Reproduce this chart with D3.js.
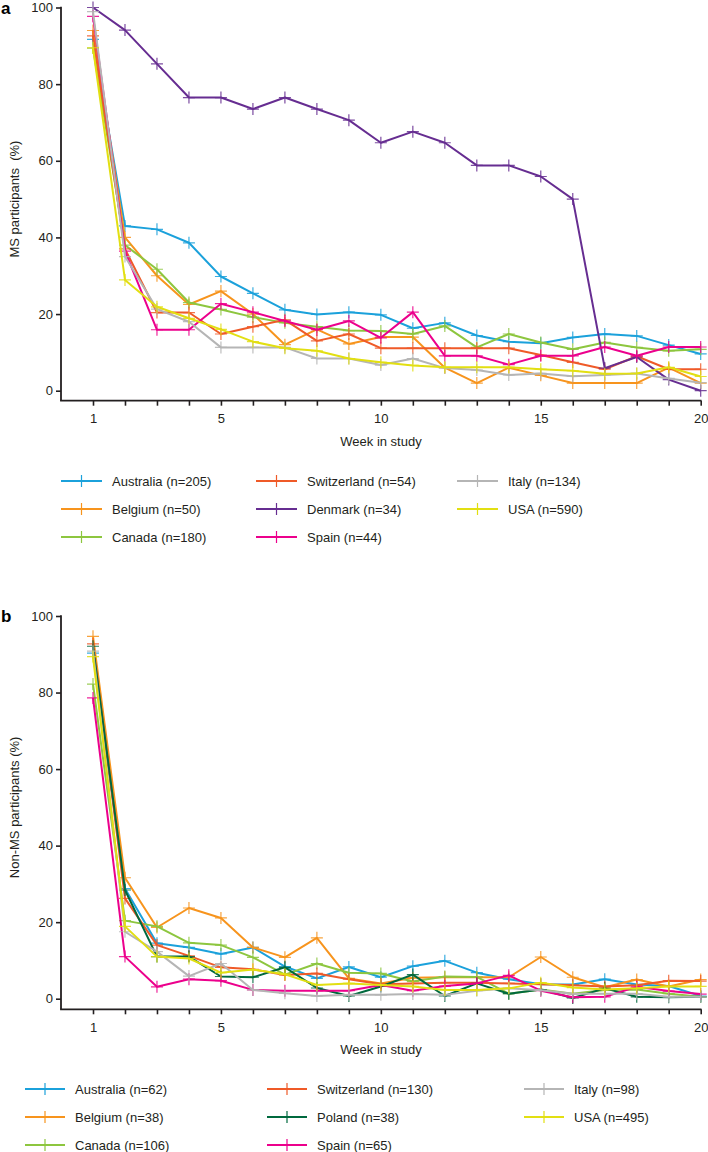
<!DOCTYPE html>
<html><head><meta charset="utf-8">
<script src="https://cdn.jsdelivr.net/npm/d3@7"></script>
<style>
body{margin:0;background:#fff;}
svg{display:block;font-family:"Liberation Sans",Arial,Helvetica,sans-serif;}
</style></head><body>
<svg id="chart" width="708" height="1152"></svg>
<script>
const weeks = d3.range(1, 21);
const xTickLabels = [1, 5, 10, 15, 20];
const yTicks = [0, 20, 40, 60, 80, 100];

const colors = {
  Australia: "#1ba1db", Belgium: "#f7941d", Canada: "#8dc63f", Switzerland: "#ef5a28",
  Denmark: "#662d91", Spain: "#ec008c", Italy: "#b5b5b5", USA: "#e2df12", Poland: "#00693e"
};

// Panel a: MS participants
const msCountries = ["Australia", "Belgium", "Canada", "Switzerland", "Denmark", "Spain", "Italy", "USA"];
const msN = [205, 50, 180, 54, 34, 44, 134, 590];
const msAustralia = [91.7, 43.0, 42.1, 38.6, 29.8, 25.4, 21.1, 19.9, 20.5, 19.8, 16.3, 17.7, 14.4, 12.8, 12.4, 13.9, 14.8, 14.3, 11.9, 9.6];
const msBelgium = [94, 40, 30, 22.5, 26, 20, 12, 16, 12.2, 14, 14, 6, 2, 6, 4, 2, 2, 2, 6, 2];
const msCanada = [89.4, 38.0, 31.7, 23.0, 21.2, 19.2, 17.7, 16.7, 15.7, 15.6, 14.8, 16.9, 11.3, 14.8, 12.6, 10.8, 12.6, 11.3, 10.4, 10.8];
const msSwitzerland = [92.6, 37.0, 20.4, 20.4, 14.8, 16.7, 18.5, 13.0, 14.8, 11.1, 11.1, 11.1, 11.1, 11.1, 9.3, 7.4, 5.6, 9.0, 5.6, 5.6];
const msDenmark = [100, 94.1, 85.3, 76.5, 76.5, 73.5, 76.5, 73.5, 70.6, 64.7, 67.6, 64.7, 58.8, 58.8, 55.9, 50.0, 5.9, 8.8, 2.9, 0];
const msSpain = [97.7, 36.4, 15.9, 15.9, 22.7, 20.5, 18.2, 15.9, 18.2, 13.8, 20.5, 9.1, 9.1, 6.8, 9.1, 9.1, 11.4, 9.1, 11.4, 11.4];
const msItaly = [98.9, 35.0, 21.3, 18.0, 11.3, 11.3, 11.3, 8.4, 8.4, 6.7, 8.4, 5.9, 5.4, 4.1, 4.5, 3.8, 4.1, 4.5, 3.2, 2.1];
const msUSA = [89.5, 28.9, 21.9, 18.9, 16.0, 12.8, 11.1, 10.4, 8.4, 7.4, 6.6, 6.1, 6.1, 6.1, 5.6, 5.2, 4.4, 4.5, 6.1, 3.7];
const msValues = [msAustralia, msBelgium, msCanada, msSwitzerland, msDenmark, msSpain, msItaly, msUSA];

// Panel b: Non-MS participants
const nonCountries = ["Australia", "Belgium", "Canada", "Switzerland", "Poland", "Spain", "Italy", "USA"];
const nonN = [62, 38, 106, 130, 38, 65, 98, 495];
const nonAustralia = [90.3, 28.8, 14.5, 13.4, 11.7, 13.4, 8.4, 5.3, 8.3, 5.6, 8.5, 9.9, 6.8, 5.1, 3.8, 3.7, 5.1, 3.7, 3.3, 0.7];
const nonBelgium = [94.7, 31.6, 18.6, 23.7, 21.1, 13.4, 10.8, 15.9, 5.3, 4.0, 5.5, 5.6, 5.6, 5.6, 10.9, 5.6, 3.0, 5.0, 3.2, 5.0];
const nonCanada = [82.2, 20.4, 18.9, 14.6, 14.0, 10.8, 6.3, 9.2, 6.8, 6.6, 4.5, 5.8, 5.7, 1.3, 2.4, 1.3, 2.3, 2.4, 1.3, 0.5];
const nonSwitzerland = [92.7, 26.2, 14.0, 11.2, 8.2, 7.7, 6.2, 6.6, 5.1, 3.8, 4.0, 4.2, 4.2, 4.0, 3.8, 3.5, 3.2, 3.5, 4.7, 4.6];
const nonPoland = [92.1, 28.4, 11.0, 11.0, 5.8, 5.6, 8.2, 2.8, 0.7, 3.2, 6.3, 0.7, 4.0, 1.3, 2.4, 0.2, 2.7, 0.5, 0.4, 0.5];
const nonSpain = [78.6, 11.0, 3.1, 5.1, 4.7, 2.3, 2.1, 2.1, 2.1, 3.6, 2.1, 3.3, 4.0, 6.1, 2.1, 0.4, 0.5, 3.1, 2.0, 1.2];
const nonItaly = [90.8, 17.5, 12.3, 5.9, 9.2, 2.3, 1.4, 0.7, 1.0, 1.0, 1.2, 1.0, 2.1, 2.7, 2.2, 1.3, 1.3, 1.3, 0.5, 0.5];
const nonUSA = [89.4, 18.9, 11.0, 10.5, 6.8, 7.6, 6.4, 3.6, 4.0, 3.6, 3.2, 2.3, 2.3, 2.7, 4.2, 2.9, 2.4, 2.7, 3.2, 3.2];
const nonValues = [nonAustralia, nonBelgium, nonCanada, nonSwitzerland, nonPoland, nonSpain, nonItaly, nonUSA];

const svg = d3.select("#chart");
const axisColor = "#231f20";
const textColor = "#231f20";
const fontSize = 13;

function drawPanel(opt) {
  const x = d3.scaleLinear().domain([1, 20]).range([93, 700.7]);
  const y = d3.scaleLinear().domain([0, 100]).range([opt.y0, opt.y100]);
  const g = svg.append("g");
  const axisX0 = 61, axisY = opt.axisY;

  // panel label
  g.append("text").attr("x", 1).attr("y", opt.y100 + 6).attr("font-size", 17).attr("font-weight", "bold")
    .attr("fill", "#000").text(opt.label);

  // y axis
  const ya = g.append("g").attr("transform", `translate(${axisX0},0)`)
    .call(d3.axisLeft(y).tickValues(yTicks).tickSize(5).tickPadding(3));
  ya.select(".domain").remove();
  ya.selectAll(".tick line").attr("stroke", axisColor).attr("stroke-width", 1.6);
  ya.selectAll(".tick text").attr("font-size", fontSize).attr("fill", textColor).attr("font-family", "Liberation Sans, Arial, sans-serif");
  g.append("line").attr("x1", axisX0).attr("x2", axisX0).attr("y1", opt.y100 - 0.8).attr("y2", axisY)
    .attr("stroke", axisColor).attr("stroke-width", 1.8);

  // x axis
  const xa = g.append("g").attr("transform", `translate(0,${axisY})`)
    .call(d3.axisBottom(x).tickValues(weeks).tickSize(5).tickPadding(8)
      .tickFormat(d => xTickLabels.includes(d) ? d : ""));
  xa.select(".domain").remove();
  xa.selectAll(".tick line").attr("stroke", axisColor).attr("stroke-width", 1.6);
  xa.selectAll(".tick text").attr("font-size", fontSize).attr("fill", textColor).attr("font-family", "Liberation Sans, Arial, sans-serif");
  g.append("line").attr("x1", axisX0 - 0.9).attr("x2", 701.5).attr("y1", axisY).attr("y2", axisY)
    .attr("stroke", axisColor).attr("stroke-width", 1.8);

  // axis titles
  g.append("text").attr("x", 381).attr("y", axisY + 45).attr("text-anchor", "middle")
    .attr("font-size", fontSize).attr("fill", textColor).text("Week in study");
  g.append("text").attr("transform", `translate(19,${(opt.y0 + opt.y100) / 2}) rotate(-90)`)
    .attr("text-anchor", "middle").attr("font-size", fontSize).attr("fill", textColor)
    .style("white-space", "pre").text(opt.yTitle);

  // series
  const line = d3.line().x((d, i) => x(weeks[i])).y(d => y(d));
  opt.countries.forEach((c, k) => {
    const vals = opt.values[k];
    const sg = g.append("g");
    sg.append("path").attr("d", line(vals)).attr("fill", "none").attr("stroke", colors[c])
      .attr("stroke-width", 2).attr("stroke-linejoin", "round");
    sg.selectAll("path.m").data(vals).enter().append("path").attr("class", "m")
      .attr("d", (d, i) => `M${x(weeks[i]) - 6},${y(d)}h12M${x(weeks[i])},${y(d) - 6}v12`)
      .attr("stroke", colors[c]).attr("stroke-width", 1.2).attr("opacity", 0.85);
  });

  // legend
  opt.countries.forEach((c, k) => {
    const col = Math.floor(k / 3), row = k % 3;
    const lx = opt.legCols[col], ly = opt.legY + row * 28;
    const lg = g.append("g");
    lg.append("line").attr("x1", lx).attr("x2", lx + opt.legLen).attr("y1", ly).attr("y2", ly)
      .attr("stroke", colors[c]).attr("stroke-width", 2);
    lg.append("line").attr("x1", lx + opt.legLen / 2).attr("x2", lx + opt.legLen / 2).attr("y1", ly - 6).attr("y2", ly + 6)
      .attr("stroke", colors[c]).attr("stroke-width", 1.2);
    lg.append("text").attr("x", lx + opt.legLen + opt.legGap).attr("y", ly).attr("dy", "0.35em")
      .attr("font-size", fontSize).attr("fill", textColor).text(`${c} (n=${opt.ns[k]})`);
  });
}

drawPanel({
  label: "a", y0: 390.7, y100: 7.5, axisY: 400.7,
  yTitle: "MS participants  (%)",
  countries: msCountries, values: msValues, ns: msN,
  legCols: [61, 256, 457], legY: 481, legLen: 41, legGap: 10
});
drawPanel({
  label: "b", y0: 998.7, y100: 616, axisY: 1009.3,
  yTitle: "Non-MS participants (%)",
  countries: nonCountries, values: nonValues, ns: nonN,
  legCols: [25, 267, 524], legY: 1089, legLen: 40, legGap: 10
});
</script>
</body></html>
